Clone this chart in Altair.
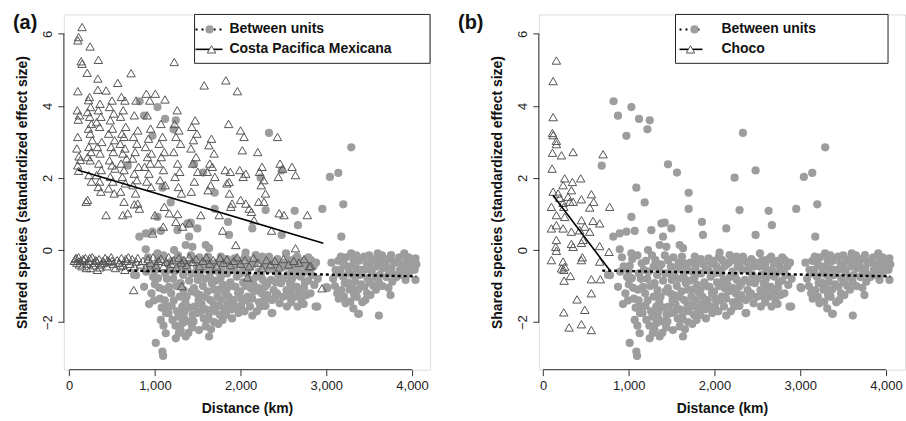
import altair as alt
import pandas as pd

# ---------------- data ----------------
# Between-units pairs: (distance km, standardized effect size)
BETWEEN_UNITS = [
    (822, 4.13), (874, 3.73), (1030, 3.97), (972, 3.17), (1119, 3.64), (1244, 3.60), (1217, 3.35),
    (684, 2.34), (1457, 2.38), (1562, 2.15), (1088, 1.73), (1185, 1.32), (1698, 1.59), (2331, 3.25),
    (2234, 2.01), (2479, 2.21), (3042, 2.03), (3140, 2.14), (3291, 2.85), (3198, 1.27), (1698, 1.14),
    (2292, 1.11), (2631, 1.09), (2953, 1.14), (1030, 0.92), (1853, 0.78), (2137, 0.60), (2669, 0.69),
    (2479, 0.42), (1865, 0.42), (3175, 0.37), (1380, 0.74), (1418, 0.76), (1263, 0.55), (1496, 0.60),
    (819, 0.37), (894, 0.46), (972, 0.51), (1069, 0.53), (894, 0.02), (1030, -0.09), (874, -1.02),
    (932, -1.50), (1069, -1.94), (1127, -2.31), (1244, -2.45), (1010, -2.58), (1088, -2.82), (1096, -2.94),
    (2137, -1.82), (2370, -1.75), (2875, -1.57), (3380, -1.77), (3613, -1.82), (3749, -1.25), (4040, -0.83),
    (4040, -0.23), (3011, -1.06), (758, -0.69), (1399, 0.37), (1360, 0.14), (1438, 0.09), (1593, 0.14),
    (1632, 0.05), (1224, 0.00), (2059, -0.07), (2176, -0.14), (2254, -0.18), (2331, -0.18), (1632, -2.40),
    (1515, -2.22), (1593, -2.12), (1322, -2.03), (1399, -1.99), (1205, -1.94),
    (1010, -0.44), (995, -0.58), (1035, -0.78),
    (1150, -0.37), (1175, -0.55), (1140, -0.80), (1165, -1.02), (1190, -1.20), (1150, -1.57), (1160, -1.75),
    (1310, -0.28), (1290, -0.46), (1330, -0.69), (1300, -0.92), (1335, -1.11), (1290, -1.29), (1320, -1.57),
    (1345, -1.71), (1300, -2.22),
    (1460, -0.28), (1490, -0.46), (1470, -0.65), (1500, -0.83), (1455, -1.06), (1485, -1.20), (1510, -1.39),
    (1465, -1.57), (1495, -1.75), (1450, -1.99),
    (1620, -0.18), (1650, -0.37), (1610, -0.55), (1640, -0.74), (1665, -0.92), (1615, -1.15), (1645, -1.39),
    (1670, -1.66), (1625, -1.85), (1655, -2.20),
    (1770, -0.18), (1800, -0.28), (1780, -0.46), (1810, -0.65), (1765, -0.78), (1795, -0.97), (1820, -1.20),
    (1775, -1.39), (1805, -1.62), (1760, -1.80), (1790, -1.94),
    (1930, -0.23), (1960, -0.37), (1925, -0.55), (1955, -0.74), (1940, -1.02), (1970, -1.20), (1920, -1.39),
    (1950, -1.57), (1975, -1.75),
    (2090, -0.28), (2115, -0.46), (2080, -0.65), (2105, -0.83), (2120, -1.06), (2085, -1.29), (2110, -1.57),
    (2240, -0.28), (2270, -0.46), (2235, -0.69), (2260, -0.83), (2285, -1.02), (2245, -1.20), (2275, -1.39),
    (2230, -1.57),
    (2360, -0.32), (2390, -0.55), (2355, -0.83), (2385, -1.11), (2365, -1.39),
    (2430, -0.25), (2460, -0.46), (2440, -0.69), (2470, -0.92), (2425, -1.20), (2455, -1.48),
    (2530, -0.09), (2560, -0.28), (2520, -0.46), (2550, -0.69), (2575, -0.92), (2535, -1.11), (2565, -1.29),
    (2540, -1.57),
    (2660, -0.18), (2690, -0.37), (2670, -0.55), (2700, -0.74), (2655, -1.02), (2685, -1.20), (2710, -1.39),
    (2665, -1.57),
    (2820, -0.28), (2850, -0.46), (2830, -0.69), (2860, -0.97), (2815, -1.20),
    (3170, -0.18), (3200, -0.37), (3165, -0.55), (3195, -0.74), (3215, -0.92), (3175, -1.11), (3205, -1.29),
    (3290, -0.09), (3320, -0.28), (3285, -0.46), (3310, -0.69), (3335, -0.88), (3295, -1.06), (3325, -1.25),
    (3280, -1.43), (3315, -1.62),
    (3440, -0.18), (3470, -0.37), (3450, -0.55), (3480, -0.78), (3445, -1.02), (3475, -1.20), (3455, -1.39),
    (3600, -0.09), (3630, -0.28), (3595, -0.46), (3625, -0.69), (3610, -0.88),
    (3755, -0.14), (3785, -0.32), (3760, -0.51), (3790, -0.69), (3770, -0.88),
    (3910, -0.09), (3940, -0.28), (3915, -0.46), (3945, -0.65), (3925, -0.83),
    (4020, -0.28), (4030, -0.55),
    (3108, -0.55), (3127, -1.20), (3224, -1.48), (3003, -1.03), (3372, -1.77), (2894, -1.57), (2362, -1.75),
    (1230, -0.60), (1250, -1.00), (1220, -1.40), (1260, -1.70), (1380, -0.40), (1400, -0.85), (1370, -1.30),
    (1410, -1.60), (1390, -2.30), (1550, -0.50), (1560, -1.00), (1545, -1.50), (1570, -1.90), (1720, -0.35),
    (1710, -0.85), (1730, -1.30), (1700, -1.70), (1870, -0.40), (1880, -0.90), (1860, -1.30), (1890, -1.65),
    (2020, -0.45), (2030, -0.90), (2010, -1.35), (2170, -0.35), (2180, -0.75), (2160, -1.15), (2320, -0.55),
    (2310, -0.95), (2600, -0.55), (2610, -1.00), (2760, -0.45), (2750, -0.90), (2770, -1.25), (3240, -0.45),
    (3250, -0.90), (3380, -0.30), (3390, -0.70), (3370, -1.10), (3540, -0.25), (3530, -0.60), (3550, -1.00),
    (3690, -0.40), (3700, -0.75), (3850, -0.20), (3860, -0.55), (3990, -0.45),
    (780, -0.70), (940, -0.45), (980, -0.75), (960, -1.20), (1050, -1.05), (1060, -1.35), (1080, -1.60),
    (1040, -0.25),
    (1100, -0.15), (1120, -0.65), (1105, -1.10), (1115, -1.40), (1130, -1.75), (1100, -2.10),
    (1200, -0.30), (1215, -0.80), (1195, -1.55), (1240, -2.10), (1270, -0.15), (1275, -1.85), (1280, -2.30),
    (1350, -0.50), (1355, -1.45), (1340, -1.90), (1360, -2.40),
    (1420, -0.15), (1425, -0.65), (1430, -1.15), (1440, -1.80), (1435, -2.15),
    (1520, -0.20), (1530, -0.70), (1525, -1.25), (1535, -1.70), (1580, -0.35), (1585, -0.80), (1590, -1.30),
    (1595, -1.65), (1600, -1.95),
    (1680, -0.55), (1690, -1.10), (1685, -1.50), (1690, -2.00),
    (1740, -0.60), (1745, -1.10), (1750, -1.55), (1740, -2.05),
    (1840, -0.25), (1845, -0.65), (1835, -1.10), (1850, -1.50), (1830, -1.80),
    (1900, -0.55), (1905, -1.00), (1910, -1.50), (1900, -1.90),
    (1990, -0.30), (2000, -0.65), (1995, -1.15), (2005, -1.55),
    (2050, -0.20), (2060, -0.55), (2055, -1.00), (2065, -1.40), (2045, -1.70),
    (2140, -0.40), (2150, -0.95), (2135, -1.35), (2200, -0.25), (2210, -0.60), (2205, -1.05), (2215, -1.45),
    (2190, -1.70),
    (2300, -0.35), (2310, -1.25), (2290, -1.55), (2400, -0.45), (2410, -0.90), (2405, -1.30),
    (2490, -0.35), (2500, -0.80), (2495, -1.30), (2590, -0.40), (2600, -0.80), (2595, -1.15), (2590, -1.45),
    (2630, -0.25), (2640, -0.70), (2630, -1.30), (2730, -0.30), (2725, -0.65), (2740, -1.05), (2735, -1.50),
    (2790, -0.20), (2800, -0.60), (2790, -0.85), (2880, -0.35), (2900, -0.80),
    (3060, -0.35), (3080, -0.80), (3100, -1.00), (3140, -0.30), (3150, -0.65), (3145, -1.35),
    (3230, -0.20), (3260, -0.65), (3270, -1.10), (3350, -0.15), (3345, -0.50), (3355, -1.30), (3400, -0.55),
    (3410, -0.95), (3420, -1.45),
    (3500, -0.15), (3505, -0.45), (3510, -0.90), (3515, -1.25), (3570, -0.30), (3575, -0.75), (3580, -1.10),
    (3650, -0.15), (3660, -0.50), (3655, -1.00), (3720, -0.25), (3730, -0.60), (3725, -1.05),
    (3810, -0.35), (3820, -0.75), (3880, -0.40), (3890, -0.70), (3960, -0.20), (3970, -0.60), (4050, -0.40),
    (900, -0.60), (920, -0.20), (1000, -0.95), (990, -1.40),
]

# Costa Pacifica Mexicana (within unit) pairs
COSTA_PACIFICA = [
    (110, 5.91), (101, 5.82), (140, 5.24), (151, 5.17), (101, 4.41), (95, 3.88), (120, 3.74), (105, 3.62),
    (100, 3.14), (90, 2.82), (115, 2.60), (130, 2.50), (100, 2.35), (110, 2.20),
    (151, 6.19), (244, 5.65), (210, 4.92), (237, 4.25), (225, 4.16), (250, 3.97), (215, 3.83), (240, 3.70),
    (260, 3.50), (225, 3.37), (245, 3.23), (270, 3.05), (230, 2.86), (255, 2.72), (215, 2.58), (245, 2.49),
    (230, 2.08), (260, 1.90), (215, 1.39),
    (341, 5.28), (334, 4.76), (334, 4.45), (360, 4.06), (340, 3.88), (370, 3.70), (320, 3.55), (355, 3.42),
    (380, 3.00), (330, 2.86), (360, 2.68), (345, 2.40), (375, 2.22), (320, 2.08), (355, 1.90), (340, 1.75),
    (370, 1.62),
    (431, 4.43), (500, 4.15), (470, 3.97), (520, 3.79), (480, 3.60), (505, 3.37), (460, 3.23), (530, 3.05),
    (490, 2.86), (515, 2.72), (470, 2.49), (500, 2.35), (535, 2.26), (480, 2.03), (510, 1.90), (460, 1.71),
    (525, 1.57),
    (566, 4.64), (610, 4.25), (650, 4.15), (630, 3.88), (600, 3.70), (660, 3.42), (615, 3.23), (640, 3.14),
    (595, 2.95), (650, 2.82), (625, 2.68), (670, 2.54), (605, 2.40), (640, 2.22), (620, 2.03), (655, 1.85),
    (600, 1.62), (640, 1.34),
    (722, 4.91), (780, 4.15), (760, 3.74), (800, 3.32), (750, 3.14), (790, 2.95), (770, 2.72), (740, 2.54),
    (810, 2.31), (760, 2.12), (790, 1.94), (745, 1.80), (775, 1.57), (800, 1.29),
    (900, 4.34), (940, 4.15), (910, 3.74), (950, 3.37), (925, 3.09), (890, 2.86), (960, 2.68), (915, 2.58),
    (945, 2.40), (880, 2.31), (930, 2.12), (905, 1.90), (955, 1.75),
    (1005, 4.34), (1118, 4.18), (1070, 3.50), (1090, 3.14), (1050, 2.95), (1110, 2.72), (1075, 2.58),
    (1040, 2.40), (1100, 2.22), (1060, 1.94), (1120, 1.80),
    (1226, 5.22), (1260, 3.88), (1230, 3.50), (1280, 3.32), (1245, 3.14), (1300, 2.95), (1220, 2.72),
    (1265, 2.40), (1290, 2.17), (1235, 2.03), (1275, 1.75), (1310, 1.57),
    (1470, 3.60), (1430, 3.42), (1490, 3.23), (1450, 3.05), (1420, 2.82), (1480, 2.58), (1440, 2.40),
    (1500, 2.17), (1460, 1.90), (1425, 1.62),
    (1575, 4.57), (1660, 3.09), (1630, 2.91), (1690, 2.68), (1640, 2.40), (1670, 2.31), (1610, 2.17),
    (1700, 2.03), (1650, 1.80), (1620, 1.66),
    (1828, 4.71), (1860, 3.50), (1820, 2.22), (1880, 2.17), (1840, 1.85), (1870, 1.57), (1900, 1.29),
    (1963, 4.41), (2000, 3.32), (2040, 3.14), (2020, 2.77), (1990, 2.22), (2060, 2.12), (2030, 2.03),
    (2000, 1.39),
    (2200, 2.72), (2250, 2.31), (2220, 2.17), (2270, 1.94), (2240, 1.80), (2290, 1.57), (2210, 1.34),
    (2430, 3.14), (2460, 2.40), (2490, 2.26), (2440, 2.03), (2600, 2.31), (2640, 2.08),
    (198, 1.34), (430, 0.97), (625, 0.97), (683, 1.02), (760, 1.27), (819, 1.15), (1000, 0.97), (1110, 1.20),
    (1168, 1.02), (1265, 1.00), (1245, 0.78), (1098, 0.65), (974, 0.46), (1323, 0.65), (1400, 0.74),
    (1536, 0.97), (1750, 0.97), (1790, 0.54), (1886, 1.20), (2060, 1.29), (2100, 1.15), (2126, 1.06),
    (1944, 0.14), (2157, 0.83), (2360, 0.54), (2450, 1.02), (2506, 0.97), (2640, 0.05), (2778, 0.97),
    (2273, 1.34), (1866, 1.89),
    (70, -0.25), (90, -0.35), (110, -0.20), (130, -0.30), (150, -0.45), (170, -0.28), (190, -0.22),
    (210, -0.38), (230, -0.30), (250, -0.50), (270, -0.20), (290, -0.35), (310, -0.28), (330, -0.55),
    (350, -0.25), (370, -0.40), (395, -0.30), (420, -0.22), (440, -0.45), (465, -0.32), (490, -0.20),
    (515, -0.38), (540, -0.50), (560, -0.28), (585, -0.35), (610, -0.22), (630, -0.42), (650, -0.55),
    (670, -0.30), (690, -0.20), (710, -0.38), (735, -0.25), (760, -0.45), (780, -0.32), (800, -0.22),
    (830, -0.40), (860, -0.30), (890, -0.50), (920, -0.25), (950, -0.36), (980, -0.20), (1010, -0.42),
    (1040, -0.30), (1070, -0.24), (1100, -0.45), (1130, -0.33), (1160, -0.20), (1190, -0.38), (1220, -0.28),
    (1250, -0.48), (1280, -0.22), (1310, -0.35), (1340, -0.28), (1370, -0.42), (1400, -0.20), (1440, -0.33),
    (1480, -0.25), (1520, -0.45), (1560, -0.30), (1600, -0.20), (1640, -0.38), (1680, -0.28), (1720, -0.46),
    (1760, -0.22), (1800, -0.35), (1840, -0.26), (1880, -0.42), (1920, -0.30), (1960, -0.20), (2000, -0.38),
    (2050, -0.28), (2100, -0.45), (2150, -0.22), (2200, -0.35), (2250, -0.50), (2300, -0.28), (2350, -0.40),
    (2400, -0.30), (2450, -0.48), (2500, -0.25), (2560, -0.40), (2620, -0.30), (2680, -0.35), (2740, -0.25),
    (2800, -0.45), (2817, -0.44),
    (60, -0.30), (80, -0.22), (120, -0.40), (160, -0.25), (200, -0.50), (240, -0.22), (280, -0.42),
    (320, -0.30), (360, -0.48), (400, -0.36), (450, -0.28), (500, -0.30), (600, -0.45), (660, -0.25),
    (753, -1.11), (1315, -1.00), (2080, -0.76), (2950, -1.06),
]

# Choco (within unit) pairs
CHOCO = [
    (155, 5.26), (117, 4.69), (117, 3.69), (109, 3.25), (117, 3.19), (155, 3.03), (155, 2.94), (109, 2.70),
    (214, 2.63), (350, 2.72), (700, 2.66), (105, 2.26), (252, 1.99), (233, 1.80), (342, 1.89), (330, 1.66),
    (439, 1.99), (117, 1.62), (175, 1.57), (194, 1.45), (291, 1.48), (311, 1.34), (447, 1.41), (563, 1.55),
    (590, 1.34), (777, 1.20), (233, 1.31), (350, 1.34), (97, 1.20), (241, 1.20), (544, 1.18),
    (155, 0.97), (252, 0.92), (447, 0.83), (583, 0.81), (660, 0.74), (97, 0.60), (155, 0.69), (233, 0.60),
    (330, 0.51), (427, 0.55), (486, 0.65), (544, 0.51), (155, 0.28), (148, 0.09), (155, -0.02), (330, 0.17),
    (350, 0.09), (447, 0.20), (466, 0.28), (660, 0.11), (769, -0.05), (97, -0.28), (233, -0.32), (252, -0.46),
    (447, -0.28), (458, -0.20), (214, -0.51), (241, -0.55), (660, -0.32), (319, -0.72), (245, -0.85),
    (563, -0.81), (668, -0.81), (563, -1.20), (396, -1.37), (486, -1.66), (241, -1.73), (447, -2.06),
    (303, -2.15), (563, -2.22),
]

# fitted lines (end points)
FIT_BETWEEN_KM = [690, 4050]
FIT_BETWEEN_Y = [-0.57, -0.73]
FIT_COSTA_KM = [100, 2965]
FIT_COSTA_Y = [2.22, 0.19]
FIT_CHOCO_KM = [115, 780]
FIT_CHOCO_Y = [1.52, -0.57]

X_TICKS = [0, 1000, 2000, 3000, 4000]
Y_TICKS = [-2, 0, 2, 4, 6]

# ---------------- styling ----------------
W, H = 367, 356
GREY = "#9d9d9d"
TRI = "#555555"
FONT = "Liberation Sans"


def pts(pairs):
    return pd.DataFrame({"km": [p[0] for p in pairs], "y": [p[1] for p in pairs]})


bu_df = pts(BETWEEN_UNITS)


def panel(tri_pairs, fit_km, fit_y, xdom, label, label_x, leg):
    xs = alt.Scale(domain=xdom, nice=False, zero=False)
    ys = alt.Scale(domain=[-3.32, 6.54], nice=False, zero=False)
    xax = alt.Axis(values=X_TICKS, format=",.0f", title="Distance (km)", domain=False, grid=False,
                   tickSize=6, tickColor="#333", labelFontSize=13, labelFont=FONT, labelColor="#222",
                   labelPadding=4, titleFontSize=14, titleFont=FONT, titleFontWeight="bold",
                   titleColor="#111", titlePadding=9)
    yax = alt.Axis(values=Y_TICKS, title="Shared species (standardized effect size)", domain=False,
                   grid=False, tickSize=6, tickColor="#333", labelFontSize=13, labelFont=FONT,
                   labelColor="#222", labelAngle=270, labelAlign="center", labelBaseline="bottom",
                   labelPadding=3, titleFontSize=14, titleFont=FONT, titleFontWeight="bold",
                   titleColor="#111", titlePadding=12)

    circles = alt.Chart(bu_df).mark_circle(size=68, color=GREY, opacity=1).encode(
        x=alt.X("km:Q", scale=xs, axis=xax),
        y=alt.Y("y:Q", scale=ys, axis=yax),
    )
    tris = alt.Chart(pts(tri_pairs)).mark_point(
        shape="triangle-up", size=72, filled=False, color=TRI, strokeWidth=1, opacity=1
    ).encode(x=alt.X("km:Q", scale=xs), y=alt.Y("y:Q", scale=ys))

    fit_bu = alt.Chart(pd.DataFrame({"km": FIT_BETWEEN_KM, "y": FIT_BETWEEN_Y})).mark_line(
        color="black", strokeWidth=2.4, strokeDash=[3, 3]
    ).encode(x=alt.X("km:Q", scale=xs), y=alt.Y("y:Q", scale=ys))
    fit_tri = alt.Chart(pd.DataFrame({"km": fit_km, "y": fit_y})).mark_line(
        color="black", strokeWidth=1.6
    ).encode(x=alt.X("km:Q", scale=xs), y=alt.Y("y:Q", scale=ys))

    one = pd.DataFrame({"a": [X_TICKS[0]], "b": [X_TICKS[-1]], "c": [Y_TICKS[0]], "d": [Y_TICKS[-1]]})
    xline = alt.Chart(one).mark_rule(color="#333", strokeWidth=1).encode(
        x=alt.X("a:Q", scale=xs), x2="b:Q", y=alt.value(H))
    yline = alt.Chart(one).mark_rule(color="#333", strokeWidth=1).encode(
        y=alt.Y("c:Q", scale=ys), y2="d:Q", x=alt.value(0))

    lab = alt.Chart(pd.DataFrame({"t": [label]})).mark_text(
        align="left", baseline="middle", fontSize=20, fontWeight="bold", font=FONT, color="#111"
    ).encode(text="t:N", x=alt.value(label_x), y=alt.value(9))

    # legend (box, keys, texts)
    box = alt.Chart(pd.DataFrame({"k": [0]})).mark_rect(
        fill="white", stroke="#222", strokeWidth=1
    ).encode(x=alt.value(leg["x0"]), x2=alt.value(leg["x1"]), y=alt.value(0), y2=alt.value(49))
    key1 = alt.Chart(pd.DataFrame({"k": [0]})).mark_rule(
        color="black", strokeWidth=2, strokeDash=[2, 4]
    ).encode(x=alt.value(leg["l0"]), x2=alt.value(leg["l1"]), y=alt.value(15))
    key1p = alt.Chart(pd.DataFrame({"k": [0]})).mark_circle(size=68, color=GREY, opacity=1).encode(
        x=alt.value(leg["cx"]), y=alt.value(15))
    key2 = alt.Chart(pd.DataFrame({"k": [0]})).mark_rule(color="black", strokeWidth=1.6).encode(
        x=alt.value(leg["l0"]), x2=alt.value(leg["l1"]), y=alt.value(35))
    key2p = alt.Chart(pd.DataFrame({"k": [0]})).mark_point(
        shape="triangle-up", size=72, filled=True, fill="white", stroke=TRI, strokeWidth=1, opacity=1
    ).encode(x=alt.value(leg["tx"]), y=alt.value(35))
    texts = alt.Chart(pd.DataFrame({"t": leg["labels"], "yy": [15, 35]})).mark_text(
        align="left", baseline="middle", fontSize=14, fontWeight="bold", font=FONT, color="#111"
    ).encode(text="t:N", x=alt.value(leg["textx"]), y=alt.Y("yy:Q", scale=None))

    return alt.layer(circles, tris, fit_bu, fit_tri, xline, yline, lab,
                     box, key1, key1p, key2, key2p, texts).properties(width=W, height=H)


left = panel(COSTA_PACIFICA, FIT_COSTA_KM, FIT_COSTA_Y, [-62, 4210], "(a)", -51,
             dict(x0=131, x1=367, l0=132, l1=159, cx=146, tx=148, textx=166,
                  labels=["Between units", "Costa Pacifica Mexicana"]))
right = panel(CHOCO, FIT_CHOCO_KM, FIT_CHOCO_Y, [-50, 4222], "(b)", -81,
              dict(x0=137, x1=350, l0=141, l1=164, cx=156, tx=152, textx=183,
                   labels=["Between units", "Choco"]))

chart = alt.hconcat(left, right, spacing=109, bounds="flush").properties(
    padding={"left": 12, "top": 12, "right": 0, "bottom": 0}
).configure_view(stroke=None).configure(background="white")

chart.save("out.html", embed_options={"renderer": "svg", "actions": False})
